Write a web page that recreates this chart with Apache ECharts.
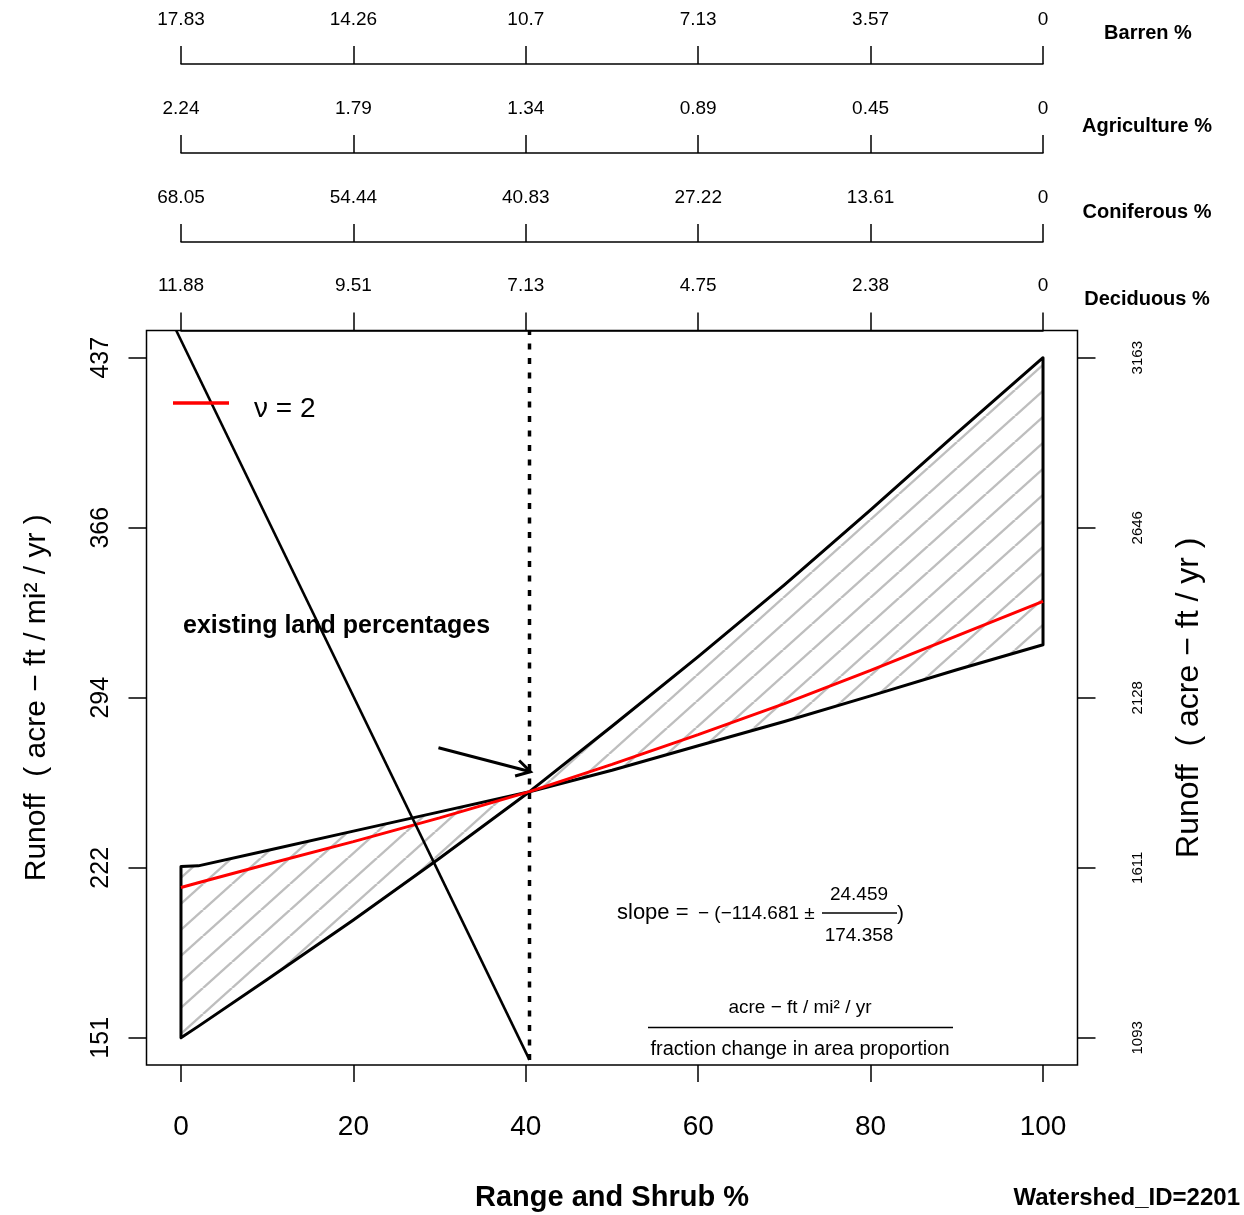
<!DOCTYPE html>
<html>
<head>
<meta charset="utf-8">
<script src="https://cdn.jsdelivr.net/npm/echarts@6/dist/echarts.min.js"></script>
<style>
html,body{margin:0;padding:0;background:#fff;}
#chart{width:1244px;height:1215px;}
</style>
</head>
<body>
<div id="chart"></div>
<script>
// ---------- data ----------
const rangeShrubX   = [0, 2, 10, 20, 30, 40.43, 50, 60, 70, 80, 90, 100];
const runoffFlat    = [223.0, 223.3, 229.8, 237.9, 246.0, 254.5, 263.5, 273.8, 284.0, 294.8, 305.8, 316.3];
const runoffSteep   = [151.0, 155.8, 175.5, 200.5, 226.5, 254.5, 282.0, 311.3, 341.5, 373.0, 405.3, 437.0];
const runoffNu2     = [214.2, 216.2, 224.0, 233.5, 243.5, 254.5, 266.0, 278.5, 291.5, 305.5, 320.0, 334.5];
const existingShare = 40.43;
const existingLow   = 141.7;
const landLine      = [[-0.55, 448.44], [40.43, 141.7]];
const arrowFrom     = [29.87, 273.0];
const arrowTo       = [40.55, 262.9];

const xTicks        = [0, 20, 40, 60, 80, 100];
const yTicks        = [151, 222.5, 294, 365.5, 437];
const yTickLabels   = ['151', '222', '294', '366', '437'];
const yRightLabels  = ['1093', '1611', '2128', '2646', '3163'];
const barrenLabels  = [17.83, 14.26, 10.7, 7.13, 3.57, 0];
const agriLabels    = [2.24, 1.79, 1.34, 0.89, 0.45, 0];
const conifLabels   = [68.05, 54.44, 40.83, 27.22, 13.61, 0];
const decidLabels   = [11.88, 9.51, 7.13, 4.75, 2.38, 0];
const yMin = 139.56, yMax = 448.44, xMin = -4, xMax = 104;

// ---------- styles ----------
const SANS = '"Liberation Sans", Arial, Helvetica, sans-serif';

function hatchPattern() {
  const W = 29, H = 26;
  const c = document.createElement('canvas');
  c.width = W; c.height = H;
  const g = c.getContext('2d');
  g.strokeStyle = '#bebebe';
  g.lineWidth = 2.4;
  for (let k = -1; k <= 1; k++) {
    g.beginPath();
    g.moveTo(k * W, H);
    g.lineTo((k + 1) * W, 0);
    g.stroke();
  }
  return { image: c, repeat: 'repeat' };
}
const hatch = hatchPattern();

const chart = echarts.init(document.getElementById('chart'), null, { renderer: 'canvas' });

const topAxisTops = [64, 153, 242, 330.5];
const topAxisLabels = [barrenLabels, agriLabels, conifLabels, decidLabels];

const grids = [{ left: 146.5, top: 330.5, width: 931, height: 734.5, show: true, borderColor: '#000', borderWidth: 1.5,
  backgroundColor: 'transparent', containLabel: false, outerBoundsMode: 'none' }];
topAxisTops.forEach(t => grids.push({ left: 181, top: t, width: 862, height: 10, show: false, containLabel: false, outerBoundsMode: 'none' }));

const xAxes = [{
  type: 'value', gridIndex: 0, min: xMin, max: xMax, position: 'bottom',
  axisLine: { show: false, onZero: false },
  axisTick: { show: true, customValues: xTicks, length: 17, lineStyle: { color: '#000', width: 1.5 } },
  axisLabel: { customValues: xTicks, color: '#000', fontSize: 28, fontFamily: SANS, margin: 48 },
  splitLine: { show: false },
  name: 'Range and Shrub %', nameLocation: 'middle', nameGap: 118,
  nameTextStyle: { color: '#000', fontSize: 29, fontWeight: 'bold', fontFamily: SANS }
}];
topAxisLabels.forEach((labs, i) => xAxes.push({
  type: 'value', gridIndex: i + 1, min: 0, max: 100, interval: 20, position: 'top',
  axisLine: { show: true, onZero: false, lineStyle: { color: '#000', width: 1.5 } },
  axisTick: { show: true, length: 18, lineStyle: { color: '#000', width: 1.5 } },
  axisLabel: { color: '#000', fontSize: 19, fontFamily: SANS, margin: 35,
    formatter: v => String(labs[Math.round(v / 20)]) },
  splitLine: { show: false }
}));

const yAxes = [{
  type: 'value', gridIndex: 0, min: yMin, max: yMax, position: 'left',
  axisLine: { show: false, onZero: false },
  axisTick: { show: true, customValues: yTicks, length: 18, lineStyle: { color: '#000', width: 1.5 } },
  axisLabel: { customValues: yTicks, rotate: 90, color: '#000', fontSize: 25, fontFamily: SANS, margin: 33,
    formatter: v => { const i = yTicks.indexOf(v); return i >= 0 ? yTickLabels[i] : ''; } },
  splitLine: { show: false },
  name: 'Runoff  ( acre − ft / mi² / yr )', nameLocation: 'middle', nameGap: 95,
  nameTextStyle: { color: '#000', fontSize: 30, fontFamily: SANS }
}, {
  type: 'value', gridIndex: 0, min: yMin, max: yMax, position: 'right',
  axisLine: { show: false, onZero: false },
  axisTick: { show: true, customValues: yTicks, length: 18, lineStyle: { color: '#000', width: 1.5 } },
  axisLabel: { customValues: yTicks, rotate: 90, color: '#000', fontSize: 15, fontFamily: SANS, margin: 53,
    formatter: v => { const i = yTicks.indexOf(v); return i >= 0 ? yRightLabels[i] : ''; } },
  splitLine: { show: false },
  name: 'Runoff  ( acre − ft / yr )', nameLocation: 'middle', nameGap: 96,
  nameTextStyle: { color: '#000', fontSize: 32, fontFamily: SANS }
}];
topAxisTops.forEach((t, i) => yAxes.push({ type: 'value', gridIndex: i + 1, min: 0, max: 1, show: false }));

const series = [
  {
    type: 'custom', name: 'band', xAxisIndex: 0, yAxisIndex: 0, z: 2,
    data: [[rangeShrubX[0], runoffSteep[0]]],
    renderItem: (params, api) => {
      const pts = [];
      for (let i = 0; i < rangeShrubX.length; i++) pts.push(api.coord([rangeShrubX[i], runoffFlat[i]]));
      for (let i = rangeShrubX.length - 1; i >= 0; i--) pts.push(api.coord([rangeShrubX[i], runoffSteep[i]]));
      return { type: 'polygon', shape: { points: pts },
        style: { fill: hatch, stroke: '#000', lineWidth: 3, lineJoin: 'round' } };
    },
    silent: true
  },
  {
    type: 'line', name: 'ν = 2', xAxisIndex: 0, yAxisIndex: 0, z: 3,
    data: rangeShrubX.map((x, i) => [x, runoffNu2[i]]),
    showSymbol: false, symbol: 'none',
    lineStyle: { color: '#ff0000', width: 3 }, silent: true
  },
  {
    type: 'line', name: 'land', xAxisIndex: 0, yAxisIndex: 0, z: 4,
    data: landLine, showSymbol: false, symbol: 'none', clip: true,
    lineStyle: { color: '#000', width: 2.6 }, silent: true
  },
  {
    type: 'line', name: 'existing', xAxisIndex: 0, yAxisIndex: 0, z: 4,
    data: [[existingShare, existingLow], [existingShare, yMax]], showSymbol: false, symbol: 'none',
    lineStyle: { color: '#000', width: 3.5, type: [6, 8.5] }, silent: true
  },
  {
    type: 'custom', name: 'arrow', xAxisIndex: 0, yAxisIndex: 0, z: 5,
    data: [[arrowFrom[0], arrowFrom[1], arrowTo[0], arrowTo[1]]],
    encode: { x: [0, 2], y: [1, 3] },
    renderItem: (params, api) => {
      const p0 = api.coord([api.value(0), api.value(1)]);
      const p1 = api.coord([api.value(2), api.value(3)]);
      const ang = Math.atan2(p1[1] - p0[1], p1[0] - p0[0]);
      const L = 16, a = Math.PI / 6;
      const h1 = [p1[0] - L * Math.cos(ang - a), p1[1] - L * Math.sin(ang - a)];
      const h2 = [p1[0] - L * Math.cos(ang + a), p1[1] - L * Math.sin(ang + a)];
      const st = { stroke: '#000', lineWidth: 3, fill: null };
      return { type: 'group', children: [
        { type: 'polyline', shape: { points: [p0, p1] }, style: st },
        { type: 'polyline', shape: { points: [h1, p1, h2] }, style: st }
      ] };
    },
    silent: true
  }
];

function txt(text, x, y, font, align) {
  return { type: 'text', x: x, y: y, silent: true, z: 100,
    style: { text: text, font: font, fill: '#000', align: align || 'left', verticalAlign: 'middle' } };
}
function ln(x1, y1, x2, y2, color, w) {
  return { type: 'line', silent: true, z: 100, shape: { x1: x1, y1: y1, x2: x2, y2: y2 }, style: { stroke: color, lineWidth: w } };
}

const graphics = [
  txt('Barren %', 1148, 33, 'bold 20px ' + SANS, 'center'),
  txt('Agriculture %', 1147, 126, 'bold 20px ' + SANS, 'center'),
  txt('Coniferous %', 1147, 212, 'bold 20px ' + SANS, 'center'),
  txt('Deciduous %', 1147, 299, 'bold 20px ' + SANS, 'center'),
  txt('existing land percentages', 183, 626, 'bold 25px ' + SANS, 'left'),
  ln(173, 403, 229, 403, '#ff0000', 3.5),
  txt('ν = 2', 254, 409, '28px ' + SANS, 'left'),
  txt('slope =', 617, 913, '22px ' + SANS, 'left'),
  txt('− (−114.681 ±', 698, 914, '19px ' + SANS, 'left'),
  txt('24.459', 859, 895, '19px ' + SANS, 'center'),
  ln(822, 913, 897, 913, '#000', 1.5),
  txt('174.358', 859, 936, '19px ' + SANS, 'center'),
  txt(')', 897, 914, '21px ' + SANS, 'left'),
  txt('acre − ft / mi² / yr', 800, 1008, '19px ' + SANS, 'center'),
  ln(648, 1027.5, 953, 1027.5, '#000', 1.5),
  txt('fraction change in area proportion', 800, 1049, '20px ' + SANS, 'center'),
  txt('Watershed_ID=2201', 1240, 1198, 'bold 24px ' + SANS, 'right')
];

chart.setOption({
  animation: false,
  backgroundColor: '#fff',
  grid: grids,
  xAxis: xAxes,
  yAxis: yAxes,
  series: series,
  graphic: { elements: graphics }
});
</script>
</body>
</html>
